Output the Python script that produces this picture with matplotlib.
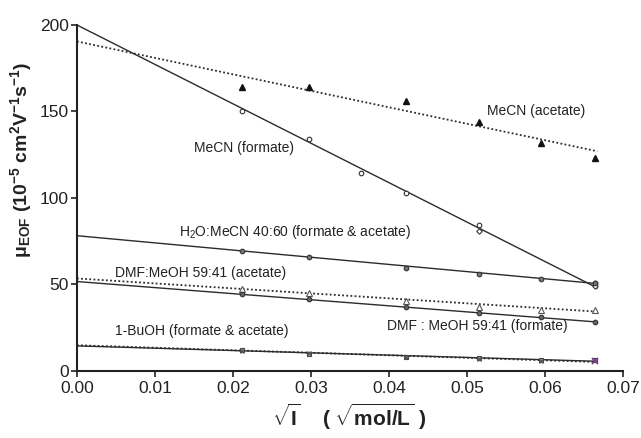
import numpy as np
import matplotlib
matplotlib.use('Agg')
import matplotlib.pyplot as plt

plt.rcParams['font.family'] = ['Liberation Sans', 'DejaVu Sans']
plt.rcParams['mathtext.fontset'] = 'custom'
plt.rcParams['mathtext.rm'] = 'Liberation Sans'
plt.rcParams['mathtext.bf'] = 'Liberation Sans:bold'
plt.rcParams['mathtext.default'] = 'regular'

# sqrt(I) values of the measured points
sq_I = [0.0211, 0.0297, 0.0364, 0.0422, 0.0515, 0.0595, 0.0664]

# measured mobilities (10^-5 cm2/Vs), None = not measured
mecn_acetate = [164, 164, None, 156, 144, 132, 123]
mecn_formate = [150, 134, 114.5, 103, 84.5, None, 51]
mecn_formate_b = [None, None, None, None, 81, None, 49]
h2o_mecn = [69.5, 65.6, None, 59.6, 56, 53, 51]
dmf_acetate = [47.5, 45.3, None, 40.5, 37, 35, 35]
dmf_formate = [44.6, 41.5, None, 36.7, 33.4, 31, 28.5]
buoh_formate = [12.2, 9.8, None, 8.3, 7.3, 6.4, 6.4]
buoh_acetate = [11.5, 10.2, None, 8.0, 7.0, 6.0, 6.0]

# fitted lines, value at sqrt(I)=0 and at end of fit
fit_x = [0.0, 0.0667]
fit_mecn_acetate = [190.5, 127]
fit_mecn_formate = [200, 48]
fit_h2o_mecn = [78.2, 50.5]
fit_dmf_acetate = [53.5, 34.3]
fit_dmf_formate = [51.7, 28.3]
fit_buoh_formate = [14.5, 5.6]
fit_buoh_acetate = [14.9, 5.2]

fig = plt.figure(figsize=(6.41, 4.38), dpi=100)
ax = fig.add_axes([0.120, 0.153, 0.852, 0.790])

lc = '#2b2b2b'
dot = (0, (1.0, 1.3))

def pts(vals):
    x = [a for a, v in zip(sq_I, vals) if v is not None]
    y = [v for v in vals if v is not None]
    return x, y

# fit lines
ax.plot(fit_x, fit_mecn_acetate, ls=dot, color=lc, lw=1.3)
ax.plot(fit_x, fit_mecn_formate, '-', color=lc, lw=1.0)
ax.plot(fit_x, fit_h2o_mecn, '-', color=lc, lw=1.0)
ax.plot(fit_x, fit_dmf_acetate, ls=dot, color=lc, lw=1.3)
ax.plot(fit_x, fit_dmf_formate, '-', color=lc, lw=1.0)
ax.plot(fit_x, fit_buoh_formate, '-', color=lc, lw=1.0)
ax.plot(fit_x, fit_buoh_acetate, ls=dot, color=lc, lw=1.3)

# points
ax.plot(*pts(mecn_acetate), '^', color='#111111', ms=4.5, ls='none')
ax.plot(*pts(mecn_formate), 'o', mfc='white', mec='#333333', ms=3.3, mew=0.8, ls='none')
ax.plot(*pts(mecn_formate_b), 'D', mfc='white', mec='#333333', ms=2.8, mew=0.8, ls='none')
ax.plot(*pts(h2o_mecn), 'o', mfc='#777777', mec='#333333', ms=3.3, mew=0.8, ls='none')
ax.plot(*pts(dmf_acetate), '^', mfc='white', mec='#555555', ms=3.8, mew=0.8, ls='none')
ax.plot(*pts(dmf_formate), 'o', mfc='#666666', mec='#333333', ms=3.3, mew=0.8, ls='none')
ax.plot(*pts(buoh_formate), 's', mfc='#999999', mec='#444444', ms=3.3, mew=0.8, ls='none')
bx, by = pts(buoh_acetate)
ax.plot(bx[:-1], by[:-1], 'x', color='#555555', ms=3.5, mew=0.9, ls='none')
ax.plot(bx[-1:], by[-1:], 'x', color='#7a3d8c', ms=4.5, mew=1.3, ls='none')

# labels on the curves
tk = dict(fontsize=10, color='#222222', va='center')
ax.text(0.0525, 150, 'MeCN (acetate)', ha='left', **tk)
ax.text(0.0150, 129, 'MeCN (formate)', ha='left', **tk)
ax.text(0.0131, 80.5, 'H$_2$O:MeCN 40:60 (formate & acetate)', ha='left', **tk)
ax.text(0.0049, 56.5, 'DMF:MeOH 59:41 (acetate)', ha='left', **tk)
ax.text(0.0398, 26, 'DMF : MeOH 59:41 (formate)', ha='left', **tk)
ax.text(0.0049, 23, '1-BuOH (formate & acetate)', ha='left', **tk)

ax.set_xlim(0, 0.07)
ax.set_ylim(0, 200)
ax.set_xticks(np.arange(0, 0.071, 0.01))
ax.set_xticklabels([f'{v:.2f}' for v in np.arange(0, 0.071, 0.01)])
ax.set_yticks([0, 50, 100, 150, 200])

for s in ['top', 'right']:
    ax.spines[s].set_visible(False)
for s in ['left', 'bottom']:
    ax.spines[s].set_linewidth(1.5)
    ax.spines[s].set_color('#222222')
ax.tick_params(axis='both', labelsize=12.5, width=1.2, length=4, colors='#222222')
ax.tick_params(axis='x', pad=3.5)
ax.tick_params(axis='y', pad=2)

fig.text(0.033, 0.635,
         r'$\mathbf{\mu}_{\mathbf{EOF}}$ (10$^{\mathbf{-5}}$ cm$^{\mathbf{2}}$V$^{\mathbf{-1}}$s$^{\mathbf{-1}}$)',
         rotation=90, ha='center', va='center', fontsize=14, fontweight='bold', color='#222222')
fig.text(0.545, 0.048, r'$\mathbf{\sqrt{I}}$    ( $\mathbf{\sqrt{mol/L}}$ )',
         ha='center', va='center', fontsize=15, fontweight='bold', color='#222222')

fig.savefig('out.png', dpi=100)
